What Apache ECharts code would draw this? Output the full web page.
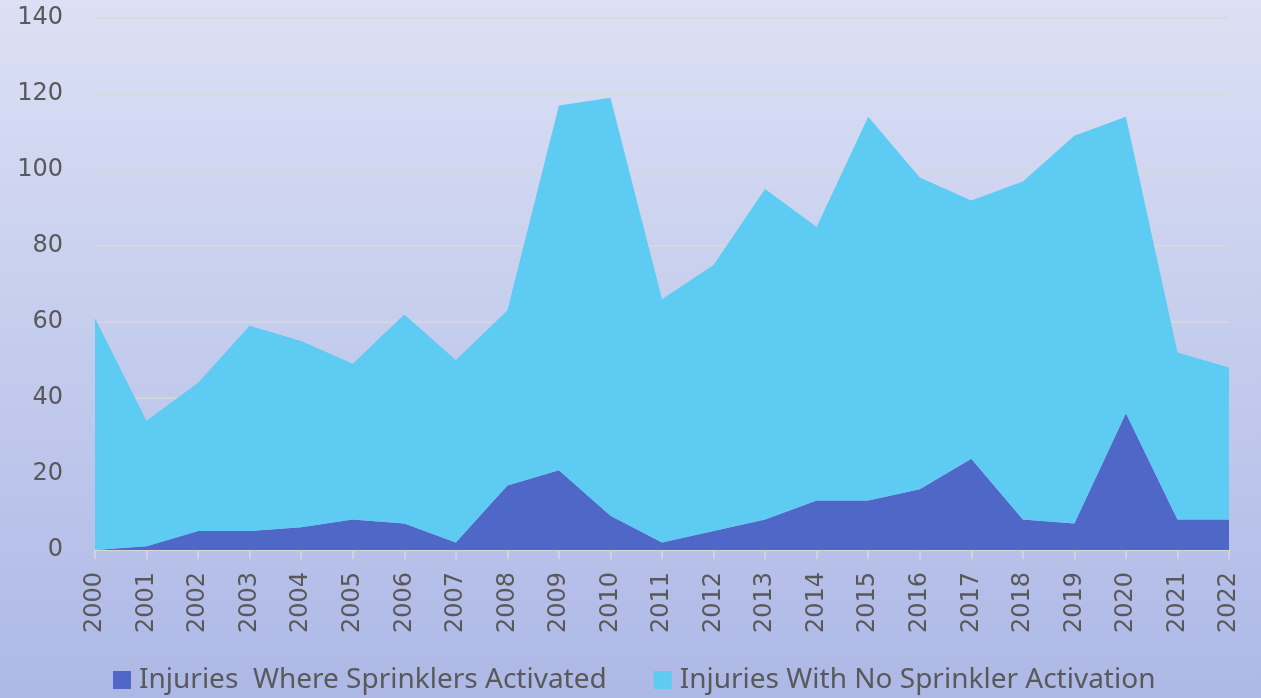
<!DOCTYPE html>
<html>
<head>
<meta charset="utf-8">
<script src="https://cdn.jsdelivr.net/npm/echarts@6/dist/echarts.min.js"></script>
<style>
html, body { margin: 0; padding: 0; }
#chart { width: 1261px; height: 698px; }
</style>
</head>
<body>
<div id="chart"></div>
<script>
var years = ['2000','2001','2002','2003','2004','2005','2006','2007','2008','2009','2010','2011',
	'2012','2013','2014','2015','2016','2017','2018','2019','2020','2021','2022'];
// bottom layer
var activated = [0, 1, 5, 5, 6, 8, 7, 2, 17, 21, 9, 2, 5, 8, 13, 13, 16, 24, 8, 7, 36, 8, 8];
// stacked on top
var noActivation = [61, 33, 39, 54, 49, 41, 55, 48, 46, 96, 110, 64, 70, 87, 72, 101, 82, 68, 89, 102, 78, 44, 40];

var textColor = '#595959';
var axisFont = 'DejaVu Sans';
var legendFont = 'Noto Sans';

var chart = echarts.init(document.getElementById('chart'));
chart.setOption({
	animation: false,
	backgroundColor: new echarts.graphic.LinearGradient(0, 0, 0, 1, [
		{ offset: 0, color: '#dbe0f4' },
		{ offset: 1, color: '#adb8e6' }
	]),
	grid: { left: 95, right: 32, top: 18, bottom: 148 },
	legend: {
		bottom: -1,
		left: 108,
		itemWidth: 18,
		itemHeight: 18,
		itemGap: 47,
		icon: 'rect',
		textStyle: { color: textColor, fontSize: 28, fontFamily: legendFont, padding: [0, 0, 0, 3] },
		data: ['Injuries  Where Sprinklers Activated', 'Injuries With No Sprinkler Activation']
	},
	xAxis: {
		type: 'category',
		boundaryGap: false,
		data: years,
		axisLine: { lineStyle: { color: '#d9d9d9', width: 1.5 } },
		axisTick: { show: true, length: 9, lineStyle: { color: '#d9d9d9', width: 1.5 } },
		axisLabel: { rotate: 90, color: textColor, fontSize: 24, fontFamily: axisFont, margin: 22 }
	},
	yAxis: {
		type: 'value',
		min: 0,
		max: 140,
		interval: 20,
		axisLine: { show: false },
		axisTick: { show: false },
		axisLabel: { color: textColor, fontSize: 24, fontFamily: axisFont, margin: 32 },
		splitLine: { lineStyle: { color: '#d9d9d9', width: 1.5 } }
	},
	series: [{
		name: 'Injuries  Where Sprinklers Activated',
		type: 'line',
		stack: 'total',
		symbol: 'none',
		lineStyle: { width: 0 },
		itemStyle: { color: '#4f67c7' },
		areaStyle: { color: '#4f67c7', opacity: 1 },
		data: activated
	}, {
		name: 'Injuries With No Sprinkler Activation',
		type: 'line',
		stack: 'total',
		symbol: 'none',
		lineStyle: { width: 0 },
		itemStyle: { color: '#5dcbf2' },
		areaStyle: { color: '#5dcbf2', opacity: 1 },
		data: noActivation
	}]
});
</script>
</body>
</html>
